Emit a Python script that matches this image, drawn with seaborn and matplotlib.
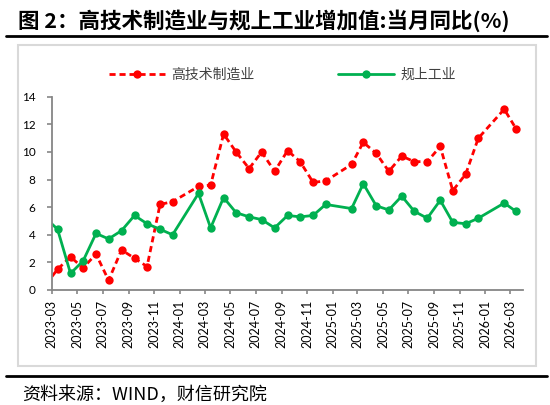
import numpy as np
import pandas as pd
import matplotlib
matplotlib.use("Agg")
import matplotlib.pyplot as plt
import matplotlib.dates as mdates
from matplotlib.patches import Rectangle
from matplotlib.lines import Line2D
import seaborn as sns

# Months (Jan figures are folded into Feb, so no Jan rows)
months = ["2023-02", "2023-03", "2023-04", "2023-05", "2023-06", "2023-07", "2023-08",
          "2023-09", "2023-10", "2023-11", "2023-12",
          "2024-02", "2024-03", "2024-04", "2024-05", "2024-06", "2024-07", "2024-08",
          "2024-09", "2024-10", "2024-11", "2024-12",
          "2025-02", "2025-03", "2025-04", "2025-05", "2025-06", "2025-07", "2025-08",
          "2025-09", "2025-10", "2025-11", "2025-12",
          "2026-02", "2026-03"]

# 高技术制造业 (%)
hitech = [0.4, 1.5, 2.4, 1.6, 2.6, 0.7, 2.9, 2.3, 1.7, 6.2, 6.4,
          7.5, 7.6, 11.3, 10.0, 8.8, 10.0, 8.6, 10.1, 9.3, 7.8, 7.9,
          9.1, 10.7, 9.9, 8.6, 9.7, 9.3, 9.3, 10.4, 7.2, 8.4, 11.0,
          13.1, 11.7]

# 规上工业 (%)
industry = [5.2, 4.4, 1.2, 2.1, 4.1, 3.7, 4.3, 5.4, 4.8, 4.4, 4.0,
            7.0, 4.5, 6.7, 5.6, 5.3, 5.1, 4.5, 5.4, 5.3, 5.4, 6.2,
            5.9, 7.7, 6.1, 5.8, 6.8, 5.7, 5.2, 6.5, 4.9, 4.8, 5.2,
            6.3, 5.7]

tick_months = pd.date_range("2023-03-01", "2026-03-01", freq="2MS")
y_ticks = [0, 2, 4, 6, 8, 10, 12, 14]

RED = "#FF0000"
GREEN = "#00B050"

df = pd.DataFrame({
    "date": pd.to_datetime(months) + pd.Timedelta(days=14),
    "hitech": hitech,
    "industry": industry,
})

sns.set_theme(style="white")
plt.rcParams["font.family"] = ["Lato", "Noto Sans CJK SC", "DejaVu Sans"]
cjk = ["Noto Sans CJK SC", "DejaVu Sans"]

fig = plt.figure(figsize=(5.5, 4.05), dpi=100)
ax = fig.add_axes([0.094, 0.284, 0.857, 0.477])

sns.lineplot(data=df, x="date", y="hitech", ax=ax, color=RED, lw=2.0,
             marker="o", markersize=6, markeredgewidth=0, label="高技术制造业")
ax.lines[-1].set_dashes([2.2, 1.4])
sns.lineplot(data=df, x="date", y="industry", ax=ax, color=GREEN, lw=2.0,
             marker="o", markersize=6, markeredgewidth=0, label="规上工业")

ax.set_xlim(pd.Timestamp("2023-03-01"), pd.Timestamp("2026-04-01"))
ax.set_ylim(0, 14)
ax.set_yticks(y_ticks)
ax.set_xticks(tick_months)
ax.xaxis.set_major_formatter(mdates.DateFormatter("%Y-%m"))
ax.set_xlabel("")
ax.set_ylabel("")

for s in ["top", "right"]:
    ax.spines[s].set_visible(False)
for s in ["left", "bottom"]:
    ax.spines[s].set_color("#868686")
    ax.spines[s].set_linewidth(1.3)

ax.tick_params(axis="x", which="major", direction="out", length=3, width=1.2,
               color="#868686", bottom=True, labelsize=9, pad=4, labelrotation=90,
               labelcolor="black")
ax.tick_params(axis="y", which="major", direction="out", length=3.5, width=1.2,
               color="#868686", left=True, labelsize=8.5, pad=8, labelcolor="black")

handles = [Line2D([], [], color=RED, lw=2.0, dashes=[2.2, 1.4], marker="o",
                  markersize=6, markeredgewidth=0),
           Line2D([], [], color=GREEN, lw=2.0, marker="o", markersize=6,
                  markeredgewidth=0)]
leg = ax.legend(handles, ["高技术制造业", "规上工业"], loc="center",
                bbox_to_anchor=(0.49, 1.112), ncol=2, frameon=False,
                handlelength=4.0, handletextpad=0.5, columnspacing=6.0,
                prop={"family": cjk, "size": 10})
for t in leg.get_texts():
    t.set_color("#404040")

# outer frame and rules
fig.patches.append(Rectangle((0.032, 0.0963), 0.9425, 0.7926, transform=fig.transFigure,
                             fill=False, edgecolor="#D9D9D9", linewidth=1.5))
fig.add_artist(Line2D([0.011, 0.995], [0.911, 0.911], transform=fig.transFigure,
                      color="black", lw=2.0))
fig.add_artist(Line2D([0.011, 0.995], [0.0723, 0.0723], transform=fig.transFigure,
                      color="black", lw=2.0))

fig.text(0.033, 0.948, "图 2：高技术制造业与规上工业增加值:当月同比(%)", family=cjk,
         fontsize=15.5, fontweight="bold", ha="left", va="center", color="black")
fig.text(0.04, 0.025, "资料来源：WIND，财信研究院", family=cjk, fontsize=13,
         style="italic", ha="left", va="center", color="black")

fig.savefig("out.png", dpi=100, facecolor="white")
